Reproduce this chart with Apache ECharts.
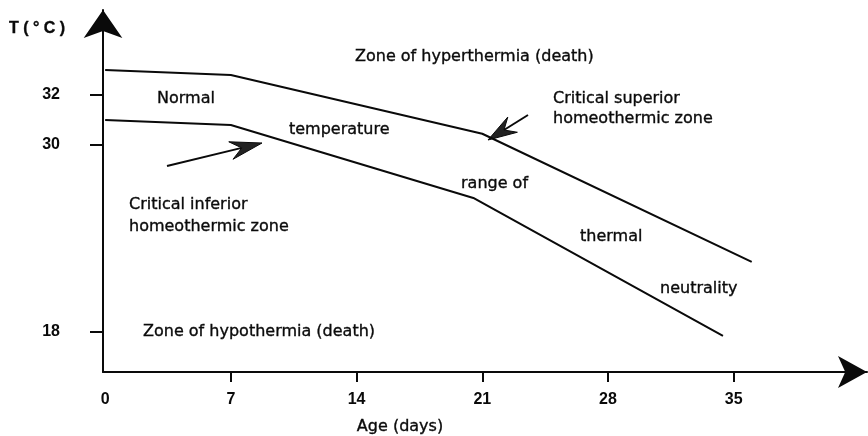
<!DOCTYPE html>
<html>
<head>
<meta charset="utf-8">
<script src="https://cdn.jsdelivr.net/npm/echarts@6/dist/echarts.min.js"></script>
<style>html,body{margin:0;padding:0;background:#fff}#c{width:868px;height:436px}</style>
</head>
<body>
<div id="c"></div>
<script>
// ---- data ----
var xTickLabels = [0, 7, 14, 21, 28, 35];
var yTickLabels = [18, 30, 32];
var upperDays = [0, 7, 21, 36];
var upperTemp = [33.0, 32.8, 30.45, 22.5];
var lowerDays = [0, 7, 20.5, 34.4];
var lowerTemp = [31.0, 30.8, 26.6, 17.75];

// The original figure's temperature axis is drawn piecewise: above 30 °C the scale is stretched.
var STRETCH = 25 / (187 / 12);
function toAxis(t) { return t <= 30 ? t : 30 + (t - 30) * STRETCH; }
function fromAxis(u) { return u <= 30 ? u : 30 + (u - 30) / STRETCH; }

function pairs(xs, ys) { return xs.map(function (x, i) { return [x, toAxis(ys[i])]; }); }

var FONT = '"DejaVu Sans", sans-serif';
var TICKFONT = '"Liberation Sans", Arial, sans-serif';
var INK = '#0a0a0a';

function txt(s, x, y, opts) {
  opts = opts || {};
  return {
    type: 'text', silent: true,
    style: {
      text: s, x: x, y: y, fill: INK, stroke: INK, lineWidth: 0.35,
      font: (opts.weight || 'normal') + ' ' + (opts.size || 16) + 'px ' + (opts.family || FONT),
      align: opts.align || 'left', verticalAlign: 'middle'
    }
  };
}
function arrow(tail, tip, len, halfW) {
  var dx = tip[0] - tail[0], dy = tip[1] - tail[1];
  var L = Math.sqrt(dx * dx + dy * dy); dx /= L; dy /= L;
  var nx = -dy, ny = dx;
  var b = [tip[0] - dx * len, tip[1] - dy * len];
  var notch = [tip[0] - dx * len * 0.65, tip[1] - dy * len * 0.65];
  return [
    { type: 'line', silent: true, shape: { x1: tail[0], y1: tail[1], x2: notch[0], y2: notch[1] }, style: { stroke: INK, lineWidth: 2 } },
    { type: 'polygon', silent: true, shape: { points: [tip, [b[0] + nx * halfW, b[1] + ny * halfW], notch, [b[0] - nx * halfW, b[1] - ny * halfW]] }, style: { fill: '#222', stroke: INK, lineWidth: 1 } }
  ];
}

var chart = echarts.init(document.getElementById('c'), null, { renderer: 'canvas' });
var graphics = [
  txt('T ( ° C )', 9, 29, { weight: 'bold', size: 16, family: TICKFONT }),
  txt('Zone of hyperthermia (death)', 355, 57),
  txt('Normal', 157, 99),
  txt('temperature', 289, 130),
  txt('range of', 461, 184),
  txt('thermal', 580, 237),
  txt('neutrality', 660, 289),
  txt('Critical superior', 553, 99),
  txt('homeothermic zone', 553, 119),
  txt('Critical inferior', 129, 205),
  txt('homeothermic zone', 129, 227),
  txt('Zone of hypothermia (death)', 143, 332),
  txt('Age (days)', 400, 427, { align: 'center' })
].concat(arrow([167, 166], [262, 143], 32, 9)).concat(arrow([528, 115], [488, 140], 29, 9));

chart.setOption({
  animation: false,
  backgroundColor: '#fff',
  grid: { left: 103, right: 1, top: 10, bottom: 64 },
  xAxis: {
    type: 'value', min: -0.12, max: 42.42,
    splitLine: { show: false },
    axisLine: { lineStyle: { color: INK, width: 2 }, symbol: ['none', 'arrow'], symbolSize: [24, 29] },
    axisTick: { customValues: xTickLabels.slice(1), length: 10, lineStyle: { color: INK, width: 2 } },
    axisLabel: { customValues: xTickLabels, margin: 20, color: INK, fontFamily: TICKFONT, fontWeight: 'bold', fontSize: 16 }
  },
  yAxis: {
    type: 'value', min: 15.433, max: 38.663,
    splitLine: { show: false },
    axisLine: { onZero: false, lineStyle: { color: INK, width: 2 }, symbol: ['none', 'arrow'], symbolSize: [29, 28] },
    axisTick: { customValues: yTickLabels.map(toAxis), length: 13, lineStyle: { color: INK, width: 2 } },
    axisLabel: {
      customValues: yTickLabels.map(toAxis), margin: 43, color: INK, fontFamily: TICKFONT, fontWeight: 'bold', fontSize: 16,
      formatter: function (v) { return String(Math.round(fromAxis(v))); }
    }
  },
  series: [
    { type: 'line', data: pairs(upperDays, upperTemp), symbol: 'none', lineStyle: { color: INK, width: 2 } },
    { type: 'line', data: pairs(lowerDays, lowerTemp), symbol: 'none', lineStyle: { color: INK, width: 2 } }
  ],
  graphic: graphics
});
</script>
</body>
</html>
